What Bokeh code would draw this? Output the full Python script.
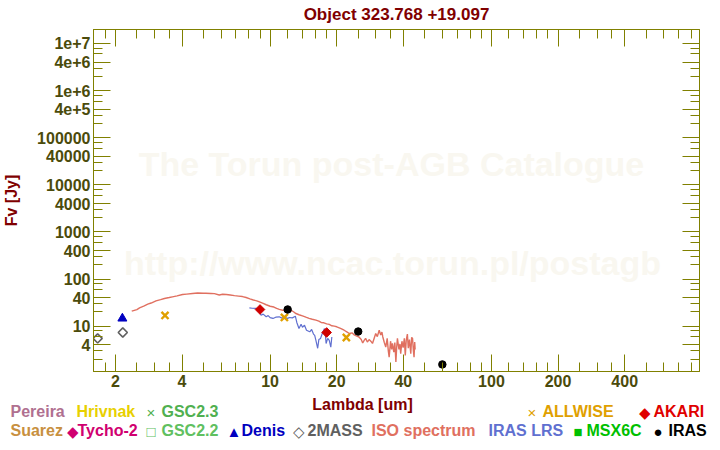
import math
from bokeh.plotting import figure
from bokeh.layouts import column
from bokeh.models import Range1d, FixedTicker, LogAxis, Label
from bokeh.embed import file_html
from bokeh.resources import INLINE

# ---------------- data ----------------
iso_wl = [2.37, 2.5, 2.57, 2.7, 2.8, 2.9, 3.05, 3.2, 3.33, 3.5, 3.62, 3.8, 4.02, 4.2, 4.46,
          4.7, 5.0, 5.13, 5.4, 5.6, 5.89, 6.1, 6.34, 6.6, 6.9, 7.2, 7.5, 7.79, 8.1, 8.4,
          8.7, 8.95, 9.3, 9.6, 10.0, 10.4, 10.7, 11.0, 11.4, 11.8, 12.2, 12.5, 12.8, 13.0,
          13.5, 14.0, 14.5, 15.0, 15.5, 16.1, 16.6, 17.0, 17.5, 18.0, 18.5, 19.0, 19.5,
          20.0, 20.8, 21.6, 22.2, 22.8, 23.5, 24.0, 24.5, 25.2, 25.8, 26.2, 26.6, 27.0,
          27.5, 28.0, 28.5, 29.0, 29.5, 30.0, 30.5, 31.1, 31.6, 32.0, 32.3, 32.8, 33.3,
          33.8, 34.2, 34.5, 35.0, 35.4, 35.7, 36.2, 36.6, 37.0, 37.3, 37.6, 38.2, 38.6,
          38.9, 39.4, 39.9, 40.4, 40.8, 41.2, 41.7, 42.1, 42.6, 43.2, 43.6, 44.0, 44.4,
          44.7, 45.0, 45.2]
iso_flux = [20.8, 22.5, 24.5, 27.0, 29.3, 31.0, 34.4, 36.5, 38.7, 40.5, 41.9, 44.0, 47.0, 48.0, 49.4,
            50.5, 50.0, 50.0, 49.5, 49.0, 46.0, 47.5, 47.0, 46.0, 44.5, 43.5, 42.5, 40.6, 38.0, 36.0,
            34.5, 32.8, 30.5, 28.5, 26.5, 25.5, 23.8, 22.8, 21.8, 21.5, 21.1, 21.5, 20.0, 18.8,
            17.5, 16.5, 15.5, 14.6, 14.0, 13.4, 12.8, 12.0, 11.8, 11.2, 10.9, 10.2, 10.0,
            9.7, 9.0, 8.2, 7.6, 7.0, 7.2, 6.5, 6.2, 5.9, 5.2, 4.4, 5.0, 5.5,
            4.6, 5.2, 4.8, 4.3, 5.5, 7.0, 6.0, 8.2, 6.5, 7.5, 5.9, 4.5, 3.6,
            5.5, 3.0, 2.2, 4.8, 3.2, 4.3, 2.8, 4.5, 1.75, 3.5, 5.5, 3.2, 4.2,
            2.6, 4.8, 3.5, 5.5, 2.4, 5.0, 6.8, 3.4, 5.2, 2.6, 5.8, 5.5, 3.0,
            2.2, 4.6, 3.2]

lrs_wl = [8.06, 8.3, 8.65, 8.9, 9.1, 9.3, 9.6, 9.8, 10.0, 10.3, 10.6, 11.0, 11.3, 11.6,
          12.0, 12.2, 12.6, 13.0, 13.2, 13.5, 13.8, 14.0, 14.3, 14.6, 15.1, 15.4, 15.7,
          15.9, 16.1, 16.4, 16.6, 16.9, 17.2, 17.6, 17.8, 17.9, 18.2, 18.5, 18.8, 19.0]
lrs_flux = [24.4, 24.0, 23.8, 21.0, 17.1, 18.0, 15.8, 16.8, 15.2, 14.6, 15.5, 15.8, 14.8, 15.5,
            14.6, 15.3, 15.0, 16.3, 12.0, 8.9, 11.0, 9.5, 10.5, 8.2, 7.6, 8.5, 6.8,
            6.4, 5.0, 3.4, 5.2, 5.5, 7.0, 8.9, 6.0, 4.3, 5.5, 5.0, 3.6, 5.9]

twomass_wl = [1.662, 2.159]
twomass_flux = [5.5, 7.35]
denis_wl = [2.15]
denis_flux = [14.6]
allwise_wl = [3.35, 11.6, 22.1]
allwise_flux = [16.9, 15.3, 5.75]
akari_wl = [9.0, 18.0]
akari_flux = [22.6, 7.35]
iras_wl = [12.0, 25.0, 60.0]
iras_flux = [22.6, 7.7, 1.54]

x_tick_values = [2, 4, 10, 20, 40, 100, 200, 400]
x_tick_labels = ["2", "4", "10", "20", "40", "100", "200", "400"]
x_minor_mult = [1.2, 1.4, 1.6, 1.8, 2.5, 3, 3.5, 5, 6, 7, 8, 9]
y_tick_values = [4, 10, 40, 100, 400, 1000, 4000, 10000, 40000, 100000,
                 400000, 1000000, 4000000, 10000000]
y_tick_labels = ["4", "10", "40", "100", "400", "1000", "4000", "10000", "40000",
                 "100000", "4e+5", "1e+6", "4e+6", "1e+7"]
y_minor_mult = [2, 3, 6, 8]

legend_row1 = [("", None, "Pereira", 10, "#b07090"),
               ("", None, "Hrivnak", 76, "#e8d000"),
               ("\u00d7", 146, "GSC2.3", 161, "#50b050"),
               ("\u00d7", 527, "ALLWISE", 542, "#e0a000"),
               ("\u25c6", 638, "AKARI", 653, "#e00000")]
legend_row2 = [("", None, "Suarez", 10, "#c89040"),
               ("\u25c6", 66, "Tycho-2", 77, "#d00070"),
               ("\u25a1", 146, "GSC2.2", 161, "#60c060"),
               ("\u25b2", 226, "Denis", 241, "#0000c0"),
               ("\u25c7", 292, "2MASS", 307, "#606060"),
               ("", None, "ISO spectrum", 371, "#e07060"),
               ("", None, "IRAS LRS", 488, "#6070d0"),
               ("\u25a0", 573, "MSX6C", 586, "#00c000"),
               ("\u25cf", 653, "IRAS", 668, "#000000")]

# ---------------- main figure ----------------
OLIVE = "#808000"
TICKTXT = "#4b4b0b"
MAROON = "#800000"
FONT = "Liberation Sans"
W = 712
MAIN_H = 393
LEG_H = 55

p = figure(width=W, height=MAIN_H, x_axis_type="log", y_axis_type="log",
           x_range=Range1d(1.592, 871), y_range=Range1d(1.092, 1.977e7),
           output_backend="svg", toolbar_location=None,
           min_border_left=92, min_border_right=13, min_border_top=29, min_border_bottom=22)
p.frame_align = False
p.grid.visible = False
p.outline_line_color = OLIVE
p.background_fill_color = "white"
p.border_fill_color = "white"

p.title.text = "Object 323.768 +19.097"
p.title.align = "center"
p.title.offset = -34
p.title.text_font = FONT
p.title.text_font_style = "bold"
p.title.text_font_size = "17px"
p.title.text_color = MAROON
p.title.standoff = 8
p.title.vertical_align = "top"

x_minor = [m * 10 ** d for d in range(0, 3) for m in x_minor_mult]
y_minor = [m * 10 ** d for d in range(0, 8) for m in y_minor_mult]

def style_axis(ax, ticks, minor, labels):
    ax.ticker = FixedTicker(ticks=ticks, minor_ticks=minor)
    ax.axis_line_color = OLIVE
    ax.major_tick_line_color = OLIVE
    ax.minor_tick_line_color = OLIVE
    ax.major_tick_in = 17
    ax.major_tick_out = 0
    ax.minor_tick_in = 9
    ax.minor_tick_out = 0
    ax.major_label_text_font = FONT
    ax.major_label_text_font_style = "bold"
    ax.major_label_text_font_size = "16px"
    ax.major_label_text_color = TICKTXT
    if labels is not None:
        ax.major_label_overrides = {float(t): l for t, l in zip(ticks, labels)}
    else:
        ax.major_label_overrides = {float(t): "" for t in ticks}
        ax.major_label_standoff = 0

style_axis(p.xaxis[0], x_tick_values, x_minor, x_tick_labels)
p.xaxis[0].major_label_standoff = 3
style_axis(p.yaxis[0], y_tick_values, y_minor, y_tick_labels)
p.yaxis[0].major_label_standoff = 3
p.yaxis[0].axis_label = "Fv [Jy]"
p.yaxis[0].axis_label_text_font = FONT
p.yaxis[0].axis_label_text_font_style = "bold"
p.yaxis[0].axis_label_text_font_size = "16px"
p.yaxis[0].axis_label_text_color = MAROON
p.yaxis[0].axis_label_standoff = 14

top_ax = LogAxis()
style_axis(top_ax, x_tick_values, x_minor, None)
p.add_layout(top_ax, "above")
right_ax = LogAxis()
style_axis(right_ax, y_tick_values, y_minor, None)
p.add_layout(right_ax, "right")

# watermark (inside the frame), anchored at the text's vertical middle
for txt, sx, sy in (("The Torun post-AGB Catalogue", 390, 163),
                    ("http://www.ncac.torun.pl/postagb", 391, 262)):
    p.add_layout(Label(x=sx - 92, y=371 - sy, x_units="screen", y_units="screen", text=txt,
                       text_color="#f9f7f0", text_font=FONT, text_font_style="bold",
                       text_font_size="34px", text_align="center", text_baseline="middle",
                       level="underlay"))

# data
p.line(iso_wl, iso_flux, line_color="#e07060", line_width=1.4)
p.line(lrs_wl, lrs_flux, line_color="#6070d0", line_width=1.2)
p.scatter(twomass_wl, twomass_flux, marker="square", angle=math.pi / 4, size=6.5,
          fill_color=None, line_color="#606060", line_width=1.6)
p.scatter(denis_wl, denis_flux, marker="triangle", size=9, fill_color="#0000c0", line_color="#0000c0")
p.scatter(allwise_wl, allwise_flux, marker="x", size=10, line_color="#e0a000", line_width=2.4)
p.scatter(akari_wl, akari_flux, marker="square", angle=math.pi / 4, size=6.8,
          fill_color="#d00000", line_color="#d00000")
p.scatter(iras_wl, iras_flux, marker="circle", size=7.5, fill_color="black", line_color="black")

# ---------------- legend strip (second figure) ----------------
q = figure(width=W, height=LEG_H, x_range=Range1d(0, W), y_range=Range1d(LEG_H, 0),
           output_backend="svg", toolbar_location=None,
           min_border_left=0, min_border_right=0, min_border_top=0, min_border_bottom=0,
           x_axis_location=None, y_axis_location=None)
q.title = None
q.frame_align = False
q.grid.visible = False
q.outline_line_color = None
q.background_fill_color = "white"
q.border_fill_color = "white"

def qtext(txt, x, y, color, size="16px", align="left", style="bold"):
    # y is the vertical middle of the text, in page pixels
    q.add_layout(Label(x=x, y=y - MAIN_H, text=txt, text_color=color, text_font=FONT,
                       text_font_style=style, text_font_size=size, text_align=align,
                       text_baseline="middle"))

qtext("Lambda [um]", 362, 404, MAROON, align="center")
for row, mid in ((legend_row1, 411), (legend_row2, 430)):
    for sym, sym_x, txt, txt_x, col in row:
        if sym:
            qtext(sym, sym_x, mid + 1, col, size="15px", style="normal")
        qtext(txt, txt_x, mid, col)

layout = column(p, q, spacing=0)
open("out.html", "w").write(file_html(layout, INLINE))
